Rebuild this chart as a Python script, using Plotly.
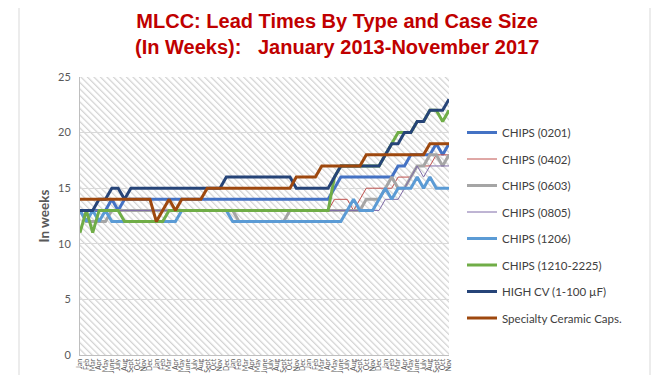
import plotly.graph_objects as go

# ---------------- data ----------------
month_abbr = ["Jan", "Feb", "Mar", "Apr", "May", "June", "July", "Aug", "Sept", "Oct", "Nov", "Dec"]
years = [2013, 2014, 2015, 2016, 2017]
labels = [m for y in years for m in month_abbr][:59]   # Jan 2013 .. Nov 2017

chips_0201 = [13, 13, 13, 13, 13, 14, 13, 14] + [14] * 32 + [15] + [16] * 9 + [17, 17] + [18] * 4 + [19, 18, 19]
chips_0402 = [13] * 40 + [14, 14, 14, 13, 14] + [15] * 5 + [16] * 3 + [17] * 3 + [18] * 3
chips_0603 = [13] + [12] * 4 + [13] * 20 + [12] * 8 + [13] * 12 + [14] * 3 + [15, 16, 15, 15, 16, 17, 17, 18, 18, 17, 18]
chips_0805 = [13] * 48 + [14] * 3 + [15, 16, 17, 16] + [17] * 4
chips_1206 = [13, 12, 13, 12, 13, 12] + [12] * 10 + [13] * 8 + [12] * 18 + [13, 14, 13, 13, 13, 14, 15, 14, 15, 15, 15, 16, 15, 16, 15, 15, 15]
chips_1210 = [11, 13, 11, 13, 13, 13, 13] + [12] * 7 + [13] * 26 + [16] + [17] * 7 + [18, 19, 20, 20, 20, 21, 21, 22, 22, 21, 22]
high_cv = [13, 13, 13, 14, 14, 15, 15, 14] + [15] * 15 + [16] * 11 + [15] * 6 + [16] + [17] * 7 + [18, 19, 19, 20, 20, 21, 21, 22, 22, 22, 23]
specialty = [14] * 12 + [12, 13, 14, 13] + [14] * 4 + [15] * 14 + [16] * 4 + [17] * 7 + [18] * 10 + [19] * 4

series_names = ["CHIPS (0201)", "CHIPS (0402)", "CHIPS (0603)", "CHIPS (0805)", "CHIPS (1206)",
                "CHIPS (1210-2225)", "HIGH CV (1-100\u00a0\u00b5F)", "Specialty Ceramic Caps."]
series_values = [chips_0201, chips_0402, chips_0603, chips_0805, chips_1206, chips_1210, high_cv, specialty]
y_ticks = [0, 5, 10, 15, 20, 25]

# ---------------- styles ----------------
colors = ["#4472C4", "#C0504D", "#A5A5A5", "#7F6BA8", "#5B9BD5", "#70AD47", "#264478", "#9E480E"]
widths = [3, 1, 3, 1, 3, 3, 3, 3]

FW, FH = 666, 375
L, T, W, H = 72, 69, 369, 278   # plot area in figure pixels


def px_to_paper_x(px):
    return (px - L) / W


def px_to_paper_y(py):
    return (T + H - py) / H


x_idx = list(range(len(labels)))

fig = go.Figure()
for name, vals, c, w in zip(series_names, series_values, colors, widths):
    fig.add_trace(go.Scatter(
        x=x_idx, y=vals, mode="lines", name=name,
        line=dict(color=c, width=w), legendgroup=name,
    ))

# hatch pattern background for plot area
svg = (
    f"<svg xmlns='http://www.w3.org/2000/svg' width='{W}' height='{H}'>"
    "<defs><pattern id='h' width='4.6' height='10' patternUnits='userSpaceOnUse' patternTransform='rotate(-45)'>"
    "<rect width='4.6' height='10' fill='white'/>"
    "<line x1='0.6' y1='0' x2='0.6' y2='10' stroke='%23D2D2D2' stroke-width='1.3'/></pattern></defs>"
    f"<rect width='{W}' height='{H}' fill='url(%23h)'/></svg>"
)
src = "data:image/svg+xml;charset=utf-8," + svg.replace("<", "%3C").replace(">", "%3E").replace("'", "%27")

fig.add_layout_image(dict(
    source=src, xref="paper", yref="paper", x=0, y=1, sizex=1, sizey=1,
    xanchor="left", yanchor="top", sizing="stretch", layer="below",
))

# slide border lines
for bx in (11, 642):
    fig.add_shape(type="line", xref="paper", yref="paper",
                  x0=px_to_paper_x(bx), x1=px_to_paper_x(bx),
                  y0=px_to_paper_y(-10), y1=px_to_paper_y(FH + 10),
                  line=dict(color="#D9D9D9", width=1))

# title as annotation for exact placement
fig.add_annotation(
    text="<b>MLCC: Lead Times By Type and Case Size<br>(In Weeks):\u00a0 \u00a0January 2013-November 2017</b>",
    xref="paper", yref="paper", x=px_to_paper_x(329), y=px_to_paper_y(26),
    xanchor="center", yanchor="middle", showarrow=False, align="center",
    font=dict(family="Liberation Sans, Arial, sans-serif", size=20, color="#C00000"),
)

fig.update_layout(
    width=FW, height=FH,
    margin=dict(l=L, r=FW - L - W, t=T, b=FH - T - H),
    paper_bgcolor="white", plot_bgcolor="rgba(0,0,0,0)",
    font=dict(family="Lato, Open Sans, sans-serif", color="#595959"),
    showlegend=True,
    legend=dict(
        x=px_to_paper_x(454), xanchor="left", y=px_to_paper_y(110), yanchor="top",
        font=dict(size=11.5, color="#404040", family="Lato, sans-serif"),
        tracegroupgap=7.5, bgcolor="rgba(0,0,0,0)",
    ),
)

fig.update_xaxes(
    range=[0, len(labels) - 1], tickmode="array", tickvals=x_idx, ticktext=labels,
    tickangle=-90, tickfont=dict(size=7, color="#595959"),
    showgrid=False, showline=True, linecolor="#BFBFBF", linewidth=1,
    ticks="", zeroline=False, automargin=False,
)
fig.update_yaxes(
    range=[0, 25], tickmode="array", tickvals=y_ticks,
    tickfont=dict(size=11, color="#595959"),
    showgrid=True, gridcolor="#D9D9D9", gridwidth=1,
    showline=True, linecolor="#BFBFBF", linewidth=1, zeroline=False,
    title=dict(text="<b>In weeks</b>", font=dict(size=13.5, color="#595959"), standoff=5),
    automargin=False, ticks="", ticklabelstandoff=6,
)

fig.write_html("out.html")
